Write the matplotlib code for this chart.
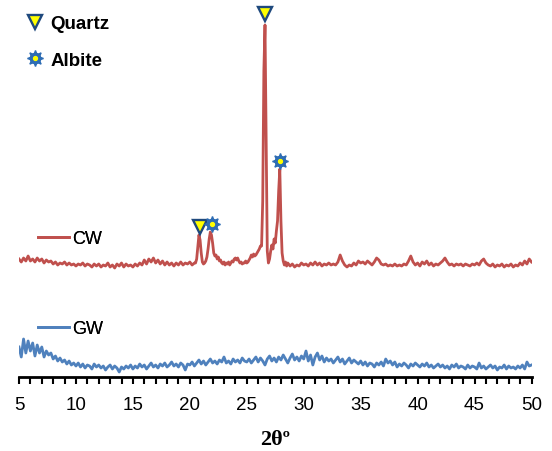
import numpy as np
import matplotlib
matplotlib.use("Agg")
from matplotlib import pyplot as plt
from matplotlib.legend_handler import HandlerTuple

# CW pattern, three pieces (coarse / fine around the peaks / coarse)
cw_a = [
    112, 109, 113, 110, 115, 110, 112, 109, 113, 110,
    112, 108, 111, 109, 110, 107, 109, 106, 108, 107,
    109, 106, 108, 106, 107, 105, 107, 106, 108, 105,
    107, 106, 104, 107, 105, 107, 104, 106, 105, 108,
    104, 106, 103, 107, 105, 108, 104, 107, 105, 106,
    104, 107, 105, 108, 106, 111, 107, 112, 109, 113,
    108, 111, 107, 110, 106, 109, 106, 108, 105, 108,
    106, 109, 106, 108, 107, 109, 106, 108,
]
cw_b = [
    108, 112, 124, 136, 131, 118, 109, 107, 108, 110,
    114, 122, 132, 139, 136, 128, 118, 115, 116, 112,
    114, 110, 111, 108, 107, 109, 106, 108, 107, 109,
    106, 108, 110, 109, 112, 113, 111, 113, 110, 108,
    109, 107, 108, 108, 110, 108, 109, 111, 113, 116,
    114, 117, 115, 116, 118, 120, 122, 125, 125, 170,
    300, 346, 230, 120, 108, 112, 120, 126, 122, 132,
    128, 140, 150, 180, 202, 150, 118, 110, 106, 109,
    105,
]
cw_c = [
    108, 105, 107, 104, 106, 105, 108, 106, 107, 105,
    108, 106, 109, 106, 108, 105, 107, 106, 108, 106,
    107, 106, 109, 116, 110, 106, 104, 106, 105, 108,
    106, 110, 108, 109, 107, 110, 108, 106, 109, 113,
    111, 107, 106, 107, 105, 106, 105, 107, 105, 106,
    105, 107, 106, 110, 115, 109, 106, 108, 105, 109,
    107, 110, 106, 108, 105, 107, 106, 108, 110, 113,
    109, 106, 107, 105, 107, 106, 107, 105, 107, 106,
    105, 107, 106, 108, 106, 110, 112, 108, 106, 105,
    107, 104, 106, 105, 107, 104, 106, 105, 107, 104,
    106, 105, 108, 106, 110, 107, 112, 109,
]

# GW pattern, 5 to 50 deg in 0.2 steps
gw = [
    24, 14, 32, 18, 30, 20, 28, 15, 26, 18, 24, 14, 20, 16, 18, 12, 15, 10, 13, 9, 11, 7, 10, 6, 8,
    5, 8, 4, 7, 3, 6, 5, 2, 7, 4, 6, 3, 5, 1, 4, 6, 2, 5, 3, -1, 4, 2, 5, 3, 6,
    2, 5, 3, 7, 4, 6, 2, 5, 8, 4, 6, 3, 7, 5, 8, 4, 6, 9, 5, 7, 4, 8, 6, 1, 7,
    6, 9, 5, 8, 11, 7, 10, 6, 9, 12, 8, 10, 7, 11, 9, 14, 8, 10, 7, 12, 9, 11, 8, 13, 10,
    9, 12, 8, 11, 14, 9, 13, 10, 6, 12, 15, 10, 13, 9, 14, 11, 16, 12, 8, 13, 17, 11, 14, 10, 15,
    12, 20, 10, 16, 6, 14, 18, 11, 15, 9, 13, 10, 12, 8, 11, 14, 9, 12, 7, 10, 13, 8, 11, 9, 7,
    10, 6, 9, 5, 8, 7, 4, 8, 6, 9, 5, 12, 8, 10, 6, 9, 4, 7, 5, 8, 6, 3, 7, 5, 8,
    6, 4, 7, 5, 8, 4, 6, 3, 5, 7, 4, 6, 3, 5, 2, 6, 4, 7, 3, 5, 4, 2, 6, 3, 5,
    4, 2, 8, 3, 5, 2, 4, 6, 3, 5, 1, 4, 3, 6, 2, 5, 3, 4, 2, 5, 3, 6, 2, 9,
    5, 6,
]

quartz_x = [20.85, 26.6]
quartz_y = [144, 357]
albite_x = [21.97, 27.9]
albite_y = [147, 210]

RED = "#C0504D"
BLUE = "#4F81BD"
DARKBLUE = "#1F497D"
YELLOW = "#FFFF00"

cw_x = np.concatenate([
    np.linspace(5.0, 20.4, len(cw_a)),
    np.linspace(20.5, 28.5, len(cw_b)),
    np.linspace(28.6, 50.0, len(cw_c)),
])
cw_y = np.array(cw_a + cw_b + cw_c)
gw_x = np.linspace(5.0, 50.0, len(gw))

plt.rcParams["font.family"] = ["Liberation Sans", "DejaVu Sans"]

fig = plt.figure(figsize=(5.52, 4.52), dpi=100)
ax = fig.add_axes([19 / 552, 74 / 452, 512.5 / 552, 372 / 452])

(cw_line,) = ax.plot(cw_x, cw_y, color=RED, lw=2.0)
(gw_line,) = ax.plot(gw_x, gw, color=BLUE, lw=2.0)

q_mark = dict(marker="v", ms=10, mfc=YELLOW, mec=DARKBLUE, mew=1.7, ls="none")
a_gear = dict(marker=(8, 1, 0), ms=11.5, color="#2E6DB4", ls="none")
a_body = dict(marker="o", ms=7.5, color="#2E6DB4", ls="none")
a_dot = dict(marker="o", ms=2.8, color=YELLOW, ls="none")

(q_h,) = ax.plot(quartz_x, quartz_y, clip_on=False, zorder=5, **q_mark)
(a_h1,) = ax.plot(albite_x, albite_y, clip_on=False, zorder=5, **a_gear)
(a_h2,) = ax.plot(albite_x, albite_y, clip_on=False, zorder=6, **a_body)
(a_h3,) = ax.plot(albite_x, albite_y, clip_on=False, zorder=7, **a_dot)

ax.set_xlim(5, 50)
ax.set_ylim(-6, 366)
ax.set_yticks([])
for s in ["left", "right", "top"]:
    ax.spines[s].set_visible(False)
ax.spines["bottom"].set_linewidth(2)
ax.set_xticks(np.arange(5, 51, 5))
ax.set_xticks(np.arange(5, 51, 1), minor=True)
ax.tick_params(axis="x", which="both", direction="out", length=5, width=1.5,
               color="black", pad=9, labelsize=13.5)
ax.set_xlabel("2θº", fontsize=16, fontweight="bold", family=["Liberation Serif", "DejaVu Serif"],
              labelpad=11)

leg_cw = fig.legend([cw_line], ["CW"], loc="center left", bbox_to_anchor=(38 / 552, 1 - 240 / 452),
                    frameon=False, borderpad=0, borderaxespad=0, handlelength=1.7,
                    handletextpad=0.2, fontsize=13)
leg_gw = fig.legend([gw_line], ["GW"], loc="center left", bbox_to_anchor=(38 / 552, 1 - 330 / 452),
                    frameon=False, borderpad=0, borderaxespad=0, handlelength=1.7,
                    handletextpad=0.2, fontsize=13)
fig.add_artist(leg_cw)
fig.add_artist(leg_gw)

leg_m = fig.legend([q_h, (a_h1, a_h2, a_h3)], ["Quartz", "Albite"],
                   handler_map={tuple: HandlerTuple(ndivide=1)},
                   loc="upper left", bbox_to_anchor=(26 / 552, 1 - 16 / 452),
                   frameon=False, borderpad=0, borderaxespad=0, handlelength=1.0,
                   handletextpad=0.3, labelspacing=1.05, numpoints=1,
                   prop={"size": 13.5, "weight": "bold"})

fig.savefig("out.png", dpi=100)
